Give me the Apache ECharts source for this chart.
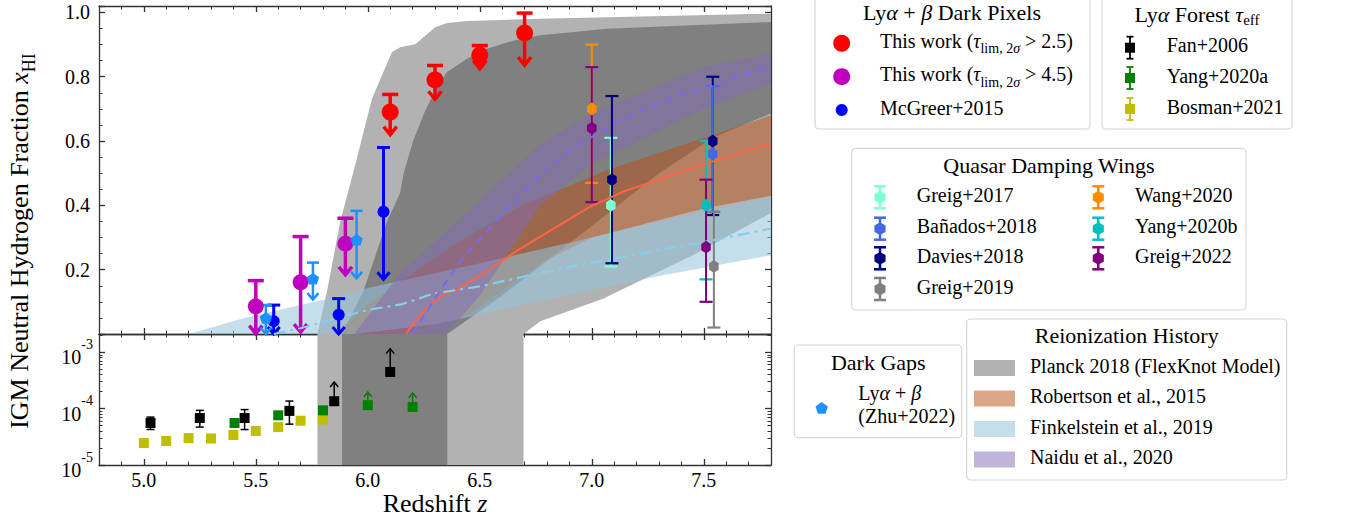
<!DOCTYPE html>
<html>
<head>
<meta charset="utf-8">
<title>IGM neutral hydrogen fraction vs redshift</title>
<script src="https://cdn.jsdelivr.net/npm/echarts@6.0.0/dist/echarts.min.js"></script>
<style>
html,body{margin:0;padding:0;background:#fff;}
#chart{width:1351px;height:520px;}
</style>
</head>
<body>
<div id="chart"></div>
<script>
// ================= axes =================
const zRange = [4.8, 7.8];
const xMajorTicks = [5.0, 5.5, 6.0, 6.5, 7.0, 7.5];
const topRange = [0, 1.02];
const bottomRange = [1e-5, 2.1e-3];
const logMajorTicks = [1e-5, 1e-4, 1e-3];
const logMinorTicks = [2e-5,3e-5,4e-5,5e-5,6e-5,7e-5,8e-5,9e-5,2e-4,3e-4,4e-4,5e-4,6e-4,7e-4,8e-4,9e-4,2e-3];

// ================= reionization histories [z, x_HI] =================
const planck2sUpper = [[5.775,0],[5.818,0.133],[5.877,0.35],[5.944,0.526],[6.019,0.732],[6.108,0.877],[6.145,0.892],[6.212,0.901],[6.301,0.954],[6.354,0.967],[6.443,0.973],[6.77,0.98],[7.8,0.996]];
const planck2sLower = [[5.775,0],[6.695,0],[6.77,0.04],[7.05,0.11],[7.45,0.245],[7.8,0.376]];
const planck1sUpper = [[5.885,0],[5.98,0.133],[6.086,0.35],[6.145,0.44],[6.16,0.5],[6.204,0.603],[6.257,0.696],[6.309,0.768],[6.354,0.815],[6.443,0.856],[6.532,0.887],[6.651,0.913],[6.77,0.929],[7.068,0.949],[7.8,0.97]];
const planck1sLower = [[5.885,0],[6.355,0],[6.6,0.12],[7.0,0.336],[7.3,0.5],[7.54,0.61],[7.8,0.686]];
const robertsonUpper = [[5.85,0],[6.0,0.09],[6.15,0.165],[6.41,0.288],[6.69,0.40],[7.07,0.51],[7.8,0.68]];
const robertsonLower = [[6.15,0],[6.45,0.06],[6.77,0.22],[7.0,0.30],[7.5,0.39],[7.8,0.43]];
const robertsonMid = [[6.17,0],[6.19,0.02],[6.249,0.071],[6.324,0.117],[6.398,0.138],[6.532,0.195],[6.651,0.252],[6.77,0.303],[6.993,0.396],[7.142,0.443],[7.49,0.526],[7.8,0.593]];
const finkelsteinUpper = [[5.2,0],[5.45,0.05],[5.7,0.09],[5.85,0.115],[6.0,0.143],[6.5,0.22],[7.0,0.30],[7.5,0.38],[7.8,0.427]];
const finkelsteinLower = [[5.95,0],[6.3,0.03],[6.77,0.102],[7.3,0.18],[7.8,0.245]];
const finkelsteinMid = [[5.58,0],[5.7,0.018],[6.0,0.075],[6.15,0.092],[6.29,0.125],[6.5,0.148],[6.77,0.19],[7.0,0.222],[7.5,0.286],[7.8,0.328]];
const naiduUpper = [[5.94,0],[6.145,0.19],[6.4,0.35],[6.77,0.59],[7.0,0.685],[7.14,0.727],[7.5,0.83],[7.8,0.872]];
const naiduLower = [[6.35,0],[6.5,0.12],[6.77,0.40],[7.0,0.53],[7.5,0.70],[7.8,0.78]];
const naiduMid = [[6.2,0],[6.3,0.112],[6.413,0.226],[6.532,0.319],[6.651,0.412],[6.77,0.495],[6.919,0.58],[7.142,0.67],[7.365,0.737],[7.536,0.771],[7.8,0.836]];
// end of reionization (Planck) shown in the lower panel [zStart, zEnd]
const planckEnd2s = [5.775, 6.695];
const planckEnd1s = [5.885, 6.355];

// ================= measurements [z, x_HI, errLow, errHigh] =================
const thisWork25 = [[6.1,0.69,0.07,0.055],[6.3,0.79,0.06,0.045],[6.5,0.867,0.042,0.03],[6.7,0.936,0.10,0.062]];
const thisWork45 = [[5.5,0.086,0.085,0.08],[5.7,0.161,0.155,0.142],[5.9,0.281,0.097,0.079]];
const mcgreer2015 = [[5.58,0.04,0.04,0.05],[5.87,0.06,0.06,0.05],[6.07,0.38,0.21,0.20]];
const zhu2022 = [[5.545,0.05,0.05,0.04],[5.755,0.172,0.065,0.05],[5.95,0.293,0.12,0.09]];
const greig2017 = [[7.085,0.40,0.19,0.21]];
const davies2018 = [[7.09,0.48,0.26,0.26],[7.54,0.60,0.23,0.20]];
const banados2018 = [[7.54,0.56,0.18,0.21]];
const greig2019 = [[7.545,0.21,0.19,0.17]];
const wang2020 = [[7.0,0.70,0.23,0.20]];
const yang2020b = [[7.51,0.40,0.23,0.20]];
const greig2022 = [[7.0,0.64,0.23,0.19],[7.51,0.27,0.17,0.21]];
// Lyα forest τ_eff (lower panel)
const fan2006 = [[5.03,5.56e-5,1.3e-5,1.5e-5],[5.25,6.8e-5,2.1e-5,2.5e-5],[5.45,6.8e-5,2.55e-5,2.8e-5],[5.65,9.1e-5,3.8e-5,4.5e-5]];
const fan2006Lim = [[5.85,1.35e-4,0,1.62e-4],[6.10,4.46e-4,0,7.1e-4]];
const yang2020a = [[5.405,5.56e-5,0.5e-5,0.5e-5],[5.60,7.6e-5,0.6e-5,0.6e-5],[5.80,9.3e-5,0.6e-5,0.6e-5]];
const yang2020aLim = [[6.0,1.15e-4,0,0.82e-4],[6.2,1.07e-4,0,0.82e-4]];
const bosman2021 = [[5.0,2.45e-5,0.15e-5,0.15e-5],[5.1,2.67e-5,0.15e-5,0.15e-5],[5.2,3.0e-5,0.2e-5,0.2e-5],[5.3,2.95e-5,0.2e-5,0.2e-5],[5.4,3.4e-5,0.25e-5,0.25e-5],[5.5,4.0e-5,0.3e-5,0.3e-5],[5.6,4.7e-5,0.35e-5,0.35e-5],[5.7,6.1e-5,0.5e-5,0.6e-5],[5.8,6.4e-5,0.5e-5,0.5e-5]];

// ================= styles =================
const FONT = 'Liberation Serif';
const AX = '#333';
const COL = {
  red:'#ff0000', magenta:'#bf00bf', blue:'#0000ff', dodger:'#1e90ff',
  aqua:'#7fffd4', royal:'#4169e1', navy:'#000080', gray:'#808080',
  orange:'#ff8c00', cyan:'#00bfbf', purple:'#800080',
  black:'#000000', green:'#008000', yellow:'#bfbf00',
  planck2:'#b2b2b2', planck1:'#808080',
  rob:'rgba(185,80,20,0.5)', fink:'rgba(150,195,220,0.55)', naidu:'rgba(130,105,180,0.5)',
  robLine:'#ff6347', finkLine:'#87ceeb', naiduLine:'#7b68ee'
};
const HEX = 'path://M0,-10L8.66,-5L8.66,5L0,10L-8.66,5L-8.66,-5Z';
const PENT = 'path://M0,-10L9.51,-3.09L5.88,8.09L-5.88,8.09L-9.51,-3.09Z';
const TICKRICH = {
  v:{fontSize:20, fontFamily:FONT, fontStyle:'normal', color:'#000'},
  b:{fontSize:20, fontFamily:FONT, fontStyle:'normal', color:'#000', lineHeight:30, verticalAlign:'bottom'},
  sup:{fontSize:14, fontFamily:FONT, fontStyle:'normal', color:'#000', lineHeight:14, verticalAlign:'top'}
};

// ================= axes builders =================
function lineSt(w){ return {color:AX, width:w}; }
function xAx(grid, pos, major, labels){
  const a = {type:'value', gridIndex:grid, position:pos, min:zRange[0], max:zRange[1],
    splitLine:{show:false}, minorTick:{show:false},
    axisLine:{show:major, onZero:false, lineStyle:lineSt(1.3)},
    axisTick:{show:true, inside:true, length:major?6:3.5, lineStyle:lineSt(major?1.3:1)},
    axisLabel:{show:false}};
  if (major) a.axisTick.customValues = xMajorTicks; else a.interval = 0.1;
  if (labels){
    a.axisLabel = {show:true, customValues:xMajorTicks, formatter:v=>'{v|'+v.toFixed(1)+'}', rich:TICKRICH,
      fontSize:20, fontFamily:FONT, color:'#000', margin:5};
    a.name = '{n|Redshift }{i|z}';
    a.nameLocation = 'middle';
    a.nameGap = 15;
    a.nameTextStyle = {fontFamily:FONT, fontSize:26, color:'#000',
      rich:{n:{fontFamily:FONT,fontSize:26,color:'#000'}, i:{fontFamily:FONT,fontSize:26,fontStyle:'italic',color:'#000'}}};
  }
  return a;
}
function yTop(pos, major, labels){
  const a = {type:'value', gridIndex:0, position:pos, min:topRange[0], max:topRange[1], interval:major?0.2:0.05,
    splitLine:{show:false}, minorTick:{show:false},
    axisLine:{show:major, onZero:false, lineStyle:lineSt(1.3)},
    axisTick:{show:true, inside:true, length:major?6:3.5, lineStyle:lineSt(major?1.3:1)},
    axisLabel:{show:false}};
  if (labels) a.axisLabel = {show:true, formatter:v=>(v<0.01||v>1.001)?'':'{v|'+v.toFixed(1)+'}', rich:TICKRICH,
    fontSize:20, fontFamily:FONT, color:'#000', margin:9};
  return a;
}
function yBot(pos, major, labels){
  const a = {type:'log', logBase:10, gridIndex:1, position:pos, min:bottomRange[0], max:bottomRange[1],
    splitLine:{show:false}, minorTick:{show:false},
    axisLine:{show:major, onZero:false, lineStyle:lineSt(1.3)},
    axisTick:{show:true, inside:true, length:major?6:3.5, lineStyle:lineSt(major?1.3:1),
      customValues: major?logMajorTicks:logMinorTicks},
    axisLabel:{show:false}};
  if (labels) a.axisLabel = {show:true, customValues:logMajorTicks, margin:6, fontFamily:FONT, fontSize:20, color:'#000',
    formatter:v=>'{b|10}{sup|'+Math.round(Math.log10(v))+'}', rich:TICKRICH};
  return a;
}

// ================= series builders =================
function band(name, upper, lower, color, xi, yi){
  return {type:'custom', name, xAxisIndex:xi, yAxisIndex:yi, silent:true, z:1,
    data:[upper[0]],
    renderItem(params, api){
      const pts = upper.map(p=>api.coord(p)).concat(lower.slice().reverse().map(p=>api.coord(p)));
      return {type:'polygon', shape:{points:pts}, style:{fill:color, stroke:null}};
    }};
}
function vband(name, range, color){
  return {type:'custom', name, xAxisIndex:4, yAxisIndex:4, silent:true, z:1,
    data:[[range[0], 1e-4]],
    renderItem(params, api){
      const cs = params.coordSys;
      const x0 = api.coord([range[0], 1e-4])[0], x1 = api.coord([range[1], 1e-4])[0];
      return {type:'rect', shape:{x:x0, y:cs.y, width:x1-x0, height:cs.height}, style:{fill:color}};
    }};
}
function modelLine(name, pts, color, type, width){
  return {type:'line', name, xAxisIndex:0, yAxisIndex:0, data:pts, showSymbol:false, symbol:'none',
    silent:true, z:2, lineStyle:{color, width, type}, emphasis:{disabled:true}};
}
// kind: 'uplim' (cap on top, arrow down), 'lolim' (arrow up), 'sym' (caps both ends)
function errBars(name, rows, kind, color, o, xi, yi){
  return {type:'custom', name:name+' (error)', xAxisIndex:xi, yAxisIndex:yi, silent:true, z:2,
    data:rows, encode:{x:0, y:1},
    renderItem(params, api){
      const z = api.value(0), v = api.value(1), lo = api.value(2), hi = api.value(3);
      const st = {stroke:color, lineWidth:o.lw, fill:null, lineJoin:'miter'};
      const cst = {stroke:color, lineWidth:o.cw, fill:null};
      const kids = [];
      const pt = api.coord([z, v+hi]);
      const cap = p => ({type:'line', shape:{x1:p[0]-o.cap, y1:p[1], x2:p[0]+o.cap, y2:p[1]}, style:cst});
      if (kind === 'lolim'){
        const pv = api.coord([z, v]);
        kids.push({type:'line', shape:{x1:pv[0], y1:pv[1], x2:pt[0], y2:pt[1]}, style:st});
        kids.push({type:'polyline', shape:{points:[[pt[0]-o.aw, pt[1]+o.ah],[pt[0], pt[1]],[pt[0]+o.aw, pt[1]+o.ah]]}, style:st});
      } else {
        const pb = api.coord([z, v-lo]);
        kids.push({type:'line', shape:{x1:pb[0], y1:pb[1], x2:pt[0], y2:pt[1]}, style:st});
        kids.push(cap(pt));
        if (kind === 'uplim'){
          kids.push({type:'polyline', shape:{points:[[pb[0]-o.aw, pb[1]-o.ah],[pb[0], pb[1]],[pb[0]+o.aw, pb[1]-o.ah]]}, style:st});
        } else {
          kids.push(cap(pb));
        }
      }
      return {type:'group', children:kids};
    }};
}
function markers(name, rows, symbol, size, color, xi, yi){
  return {type:'scatter', name, xAxisIndex:xi, yAxisIndex:yi, data:rows.map(r=>[r[0], r[1]]),
    symbol, symbolSize:size, symbolKeepAspect:true, silent:true, z:3,
    itemStyle:{color, opacity:1}, emphasis:{disabled:true}};
}

const oBig = {lw:3.5, cw:3.5, cap:8, aw:6.5, ah:8};
const oBlue = {lw:3, cw:3, cap:6.5, aw:6, ah:7};
const oGap = {lw:2.5, cw:2.5, cap:6, aw:5.5, ah:6.5};
const oQ = {lw:2, cw:2.2, cap:6.5};
const oF = {lw:1.5, cw:1.5, cap:4, aw:4, ah:5};

const series = [
  band('Planck 2018 (FlexKnot Model) 2σ', planck2sUpper, planck2sLower, COL.planck2, 0, 0),
  band('Planck 2018 (FlexKnot Model) 1σ', planck1sUpper, planck1sLower, COL.planck1, 0, 0),
  band('Robertson et al., 2015', robertsonUpper, robertsonLower, COL.rob, 0, 0),
  band('Finkelstein et al., 2019', finkelsteinUpper, finkelsteinLower, COL.fink, 0, 0),
  band('Naidu et al., 2020', naiduUpper, naiduLower, COL.naidu, 0, 0),
  modelLine('Robertson median', robertsonMid, COL.robLine, 'solid', 2),
  modelLine('Finkelstein median', finkelsteinMid, COL.finkLine, [12,5,3,5], 2.2),
  modelLine('Naidu median', naiduMid, COL.naiduLine, [8,6], 2),
  // dark pixels / dark gaps
  errBars('This work (τ>2.5)', thisWork25, 'uplim', COL.red, oBig, 0, 0),
  errBars('This work (τ>4.5)', thisWork45, 'uplim', COL.magenta, oBig, 0, 0),
  errBars('McGreer+2015', mcgreer2015, 'uplim', COL.blue, oBlue, 0, 0),
  errBars('Zhu+2022', zhu2022, 'uplim', COL.dodger, oGap, 0, 0),
  // damping wings
  errBars('Greig+2017', greig2017, 'sym', COL.aqua, oQ, 0, 0),
  errBars('Davies+2018', davies2018, 'sym', COL.navy, oQ, 0, 0),
  errBars('Bañados+2018', banados2018, 'sym', COL.royal, oQ, 0, 0),
  errBars('Greig+2019', greig2019, 'sym', COL.gray, oQ, 0, 0),
  errBars('Wang+2020', wang2020, 'sym', COL.orange, oQ, 0, 0),
  errBars('Yang+2020b', yang2020b, 'sym', COL.cyan, oQ, 0, 0),
  errBars('Greig+2022', greig2022, 'sym', COL.purple, oQ, 0, 0),
  markers('This work (τ>2.5)', thisWork25, 'circle', 17, COL.red, 0, 0),
  markers('This work (τ>4.5)', thisWork45, 'circle', 16, COL.magenta, 0, 0),
  markers('McGreer+2015', mcgreer2015, 'circle', 12, COL.blue, 0, 0),
  markers('Zhu+2022', zhu2022, PENT, [12.5,12], COL.dodger, 0, 0),
  markers('Greig+2017', greig2017, HEX, [11,12.7], COL.aqua, 0, 0),
  markers('Davies+2018', davies2018, HEX, [11,12.7], COL.navy, 0, 0),
  markers('Bañados+2018', banados2018, HEX, [11,12.7], COL.royal, 0, 0),
  markers('Greig+2019', greig2019, HEX, [11,12.7], COL.gray, 0, 0),
  markers('Wang+2020', wang2020, HEX, [11,12.7], COL.orange, 0, 0),
  markers('Yang+2020b', yang2020b, HEX, [11,12.7], COL.cyan, 0, 0),
  markers('Greig+2022', greig2022, HEX, [11,12.7], COL.purple, 0, 0),
  // lower panel
  vband('Planck end 2σ', planckEnd2s, COL.planck2),
  vband('Planck end 1σ', planckEnd1s, COL.planck1),
  errBars('Bosman+2021', bosman2021, 'sym', COL.yellow, oF, 4, 4),
  errBars('Yang+2020a', yang2020a, 'sym', COL.green, oF, 4, 4),
  errBars('Yang+2020a lim', yang2020aLim, 'lolim', COL.green, oF, 4, 4),
  errBars('Fan+2006', fan2006, 'sym', COL.black, oF, 4, 4),
  errBars('Fan+2006 lim', fan2006Lim, 'lolim', COL.black, oF, 4, 4),
  markers('Bosman+2021', bosman2021, 'rect', 10, COL.yellow, 4, 4),
  markers('Yang+2020a', yang2020a.concat(yang2020aLim), 'rect', 10, COL.green, 4, 4),
  markers('Fan+2006', fan2006.concat(fan2006Lim), 'rect', 10, COL.black, 4, 4)
];

// ================= legends (graphic) =================
const RICH = {
  n:{fontSize:20, fontFamily:FONT, lineHeight:25, verticalAlign:'top', fill:'#000'},
  i:{fontSize:20, fontFamily:FONT, fontStyle:'italic', lineHeight:25, verticalAlign:'top', fill:'#000'},
  s:{fontSize:14, fontFamily:FONT, lineHeight:14, verticalAlign:'bottom', fill:'#000'},
  si:{fontSize:14, fontFamily:FONT, fontStyle:'italic', lineHeight:14, verticalAlign:'bottom', fill:'#000'},
  t:{fontSize:22, fontFamily:FONT, lineHeight:24, verticalAlign:'top', fill:'#000'},
  ti:{fontSize:22, fontFamily:FONT, fontStyle:'italic', lineHeight:24, verticalAlign:'top', fill:'#000'},
  ts:{fontSize:15, fontFamily:FONT, lineHeight:13, verticalAlign:'bottom', fill:'#000'},
  a:{fontSize:26, fontFamily:FONT, lineHeight:32, verticalAlign:'top', fill:'#000'},
  ai:{fontSize:26, fontFamily:FONT, fontStyle:'italic', lineHeight:32, verticalAlign:'top', fill:'#000'},
  as:{fontSize:18, fontFamily:FONT, lineHeight:18, verticalAlign:'bottom', fill:'#000'}
};
function txt(x, y, text, align, rot){
  const e = {type:'text', x, y, silent:true, z:20,
    style:{text, align:align||'left', verticalAlign:'middle', rich:RICH, fontFamily:FONT, fontSize:20, fill:'#000'}};
  if (rot) e.rotation = rot;
  return e;
}
function box(x, y, w, h){
  return {type:'rect', silent:true, z:10, shape:{x, y, width:w, height:h, r:4},
    style:{fill:'rgba(255,255,255,0.8)', stroke:'#d6d6d6', lineWidth:1.2}};
}
function poly(cx, cy, r, n, color){
  const pts = [];
  for (let k=0;k<n;k++){ const a = -Math.PI/2 + k*2*Math.PI/n; pts.push([cx+r*Math.cos(a), cy+r*Math.sin(a)]); }
  return {type:'polygon', silent:true, z:15, shape:{points:pts}, style:{fill:color}};
}
function errIcon(cx, cy, color, half, capw, lw){
  return [
    {type:'line', silent:true, z:15, shape:{x1:cx, y1:cy-half, x2:cx, y2:cy+half}, style:{stroke:color, lineWidth:lw}},
    {type:'line', silent:true, z:15, shape:{x1:cx-capw, y1:cy-half, x2:cx+capw, y2:cy-half}, style:{stroke:color, lineWidth:lw}},
    {type:'line', silent:true, z:15, shape:{x1:cx-capw, y1:cy+half, x2:cx+capw, y2:cy+half}, style:{stroke:color, lineWidth:lw}}
  ];
}
function circ(cx, cy, r, color){ return {type:'circle', silent:true, z:15, shape:{cx, cy, r}, style:{fill:color}}; }
function sq(cx, cy, s, color){ return {type:'rect', silent:true, z:15, shape:{x:cx-s/2, y:cy-s/2, width:s, height:s}, style:{fill:color}}; }
function patch(x, y, color){ return {type:'rect', silent:true, z:15, shape:{x, y:y-8, width:41, height:16}, style:{fill:color}}; }

const G = [];
// axis title (y)
G.push(txt(22, 241, '{a|IGM Neutral Hydrogen Fraction }{ai|x}{as|HI}', 'center', Math.PI/2));
// Box 1: dark pixels
G.push(box(815, -3, 275, 132));
G.push(txt(952, 13, '{t|Ly}{ti|α}{t| + }{ti|β}{t| Dark Pixels}', 'center'));
G.push(circ(841.7, 43.3, 8.5, COL.red));
G.push(txt(880, 43.3, '{n|This work (}{i|τ}{s|lim, 2}{si|σ}{n| > 2.5)}'));
G.push(circ(841.7, 76.7, 8.5, COL.magenta));
G.push(txt(880, 76.7, '{n|This work (}{i|τ}{s|lim, 2}{si|σ}{n| > 4.5)}'));
G.push(circ(841.7, 110, 6, COL.blue));
G.push(txt(880, 110, '{n|McGreer+2015}'));
// Box 2: Lyα forest
G.push(box(1102, -3, 190, 132));
G.push(txt(1197, 15, '{t|Ly}{ti|α}{t| Forest }{ti|τ}{ts|eff}', 'center'));
[[47.7, COL.black, 'Fan+2006'], [78, COL.green, 'Yang+2020a'], [109, COL.yellow, 'Bosman+2021']].forEach(r=>{
  errIcon(1130, r[0], r[1], 11, 3.5, 1.8).forEach(e=>G.push(e));
  G.push(sq(1130, r[0], 10, r[1]));
  G.push(txt(1166.7, r[0], '{n|'+r[2]+'}'));
});
// Box 3: damping wings
G.push(box(851.7, 148.3, 394.3, 161.7));
G.push(txt(1049, 166, '{t|Quasar Damping Wings}', 'center'));
[[880, 197.3, COL.aqua, 'Greig+2017'], [880, 228.7, COL.royal, 'Bañados+2018'], [880, 258.3, COL.navy, 'Davies+2018'], [880, 289, COL.gray, 'Greig+2019'],
 [1098.3, 197.3, COL.orange, 'Wang+2020'], [1098.3, 228.7, COL.cyan, 'Yang+2020b'], [1098.3, 258.3, COL.purple, 'Greig+2022']].forEach(r=>{
  errIcon(r[0], r[1], r[2], 11, 6, 2.5).forEach(e=>G.push(e));
  G.push(poly(r[0], r[1], 6.4, 6, r[2]));
  G.push(txt(r[0]+36.7, r[1], '{n|'+r[3]+'}'));
});
// Box 4: dark gaps
G.push(box(794.3, 345, 167.4, 92.7));
G.push(txt(878.3, 363, '{t|Dark Gaps}', 'center'));
G.push(poly(821.7, 408.5, 6.5, 5, COL.dodger));
G.push(txt(858.3, 395, '{n|Ly}{i|α}{n| + }{i|β}'));
G.push(txt(858.3, 418.6, '{n|(Zhu+2022)}'));
// Box 5: reionization history
G.push(box(966.7, 319, 320, 161));
G.push(txt(1126.7, 336.3, '{t|Reionization History}', 'center'));
[[368, COL.planck2, 'Planck 2018 (FlexKnot Model)'], [398.5, COL.rob, 'Robertson et al., 2015'],
 [429, COL.fink, 'Finkelstein et al., 2019'], [459.5, COL.naidu, 'Naidu et al., 2020']].forEach(r=>{
  G.push(patch(974, r[0], r[1]));
  G.push(txt(1030, r[0], '{n|'+r[2]+'}'));
});

const option = {
  animation:false,
  backgroundColor:'#ffffff',
  textStyle:{fontFamily:FONT},
  grid:[{left:99, top:6, width:672, height:328}, {left:99, top:334, width:672, height:131}],
  xAxis:[
    xAx(0,'bottom',true,false), xAx(0,'bottom',false,false), xAx(0,'top',true,false), xAx(0,'top',false,false),
    xAx(1,'bottom',true,true), xAx(1,'bottom',false,false), xAx(1,'top',true,false), xAx(1,'top',false,false)
  ],
  yAxis:[
    yTop('left',true,true), yTop('right',true,false), yTop('left',false,false), yTop('right',false,false),
    yBot('left',true,true), yBot('right',true,false), yBot('left',false,false), yBot('right',false,false)
  ],
  series,
  graphic:{elements:G}
};
const chart = echarts.init(document.getElementById('chart'), null, {renderer:'svg'});
chart.setOption(option);
</script>
</body>
</html>
